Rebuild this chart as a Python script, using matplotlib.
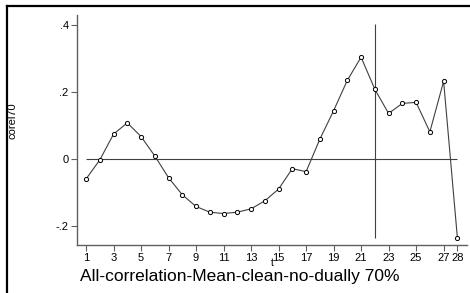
import numpy as np
import matplotlib.pyplot as plt
from matplotlib.lines import Line2D

plt.rcParams['font.family'] = ['Liberation Sans', 'DejaVu Sans']

t = np.arange(1, 29)
corel70 = [-0.060, -0.003, 0.074, 0.108, 0.067, 0.009, -0.056, -0.107,
           -0.142, -0.159, -0.163, -0.159, -0.149, -0.125, -0.090, -0.029,
           -0.038, 0.059, 0.144, 0.235, 0.304, 0.208, 0.136, 0.166,
           0.169, 0.081, 0.232, -0.235]
xticks = [1, 3, 5, 7, 9, 11, 13, 15, 17, 19, 21, 23, 25, 27, 28]
yticks = [-0.2, 0, 0.2, 0.4]
ylabels = ['-.2', '0', '.2', '.4']
vline_t = 22
title = 'All-correlation-Mean-clean-no-dually 70%'

fig = plt.figure(figsize=(4.70, 2.93), dpi=100)
ax = fig.add_axes([77 / 470, 1 - 245 / 293, 390 / 470, 230 / 293])

ax.plot(t, corel70, color='#404040', lw=0.8, marker='o', ms=3,
        mfc='white', mec='black', mew=0.7, zorder=3)
ax.hlines(0, t[0], t[-1], color='#404040', lw=0.8)
ax.vlines(vline_t, min(corel70), 0.403, color='#404040', lw=0.8)

ax.set_xlim(0.345, 28.7)
ax.set_ylim(-0.257, 0.430)
ax.set_xticks(xticks)
ax.set_xticklabels([str(v) for v in xticks])
ax.set_yticks(yticks)
ax.set_yticklabels(ylabels)
ax.tick_params(labelsize=8, length=4, width=0.8, color='#606060', pad=2)
for s in ['top', 'right']:
    ax.spines[s].set_visible(False)
for s in ['left', 'bottom']:
    ax.spines[s].set_color('#606060')
    ax.spines[s].set_linewidth(1.0)
ax.set_xlabel('t', fontsize=7.5, labelpad=-4)

fig.text(12 / 470, 1 - 121 / 293, 'corel70', rotation=90, fontsize=8,
         ha='center', va='center')
fig.text(240 / 470, 1 - 277 / 293, title, fontsize=12.5,
         ha='center', va='center')

# outer frame (left and top edges)
fig.add_artist(Line2D([7 / 470, 7 / 470], [0, 1 - 6 / 293], color='black', lw=1.6))
fig.add_artist(Line2D([7 / 470, 1], [1 - 6 / 293, 1 - 6 / 293], color='black', lw=1.6))

fig.savefig('out.png', dpi=100)
